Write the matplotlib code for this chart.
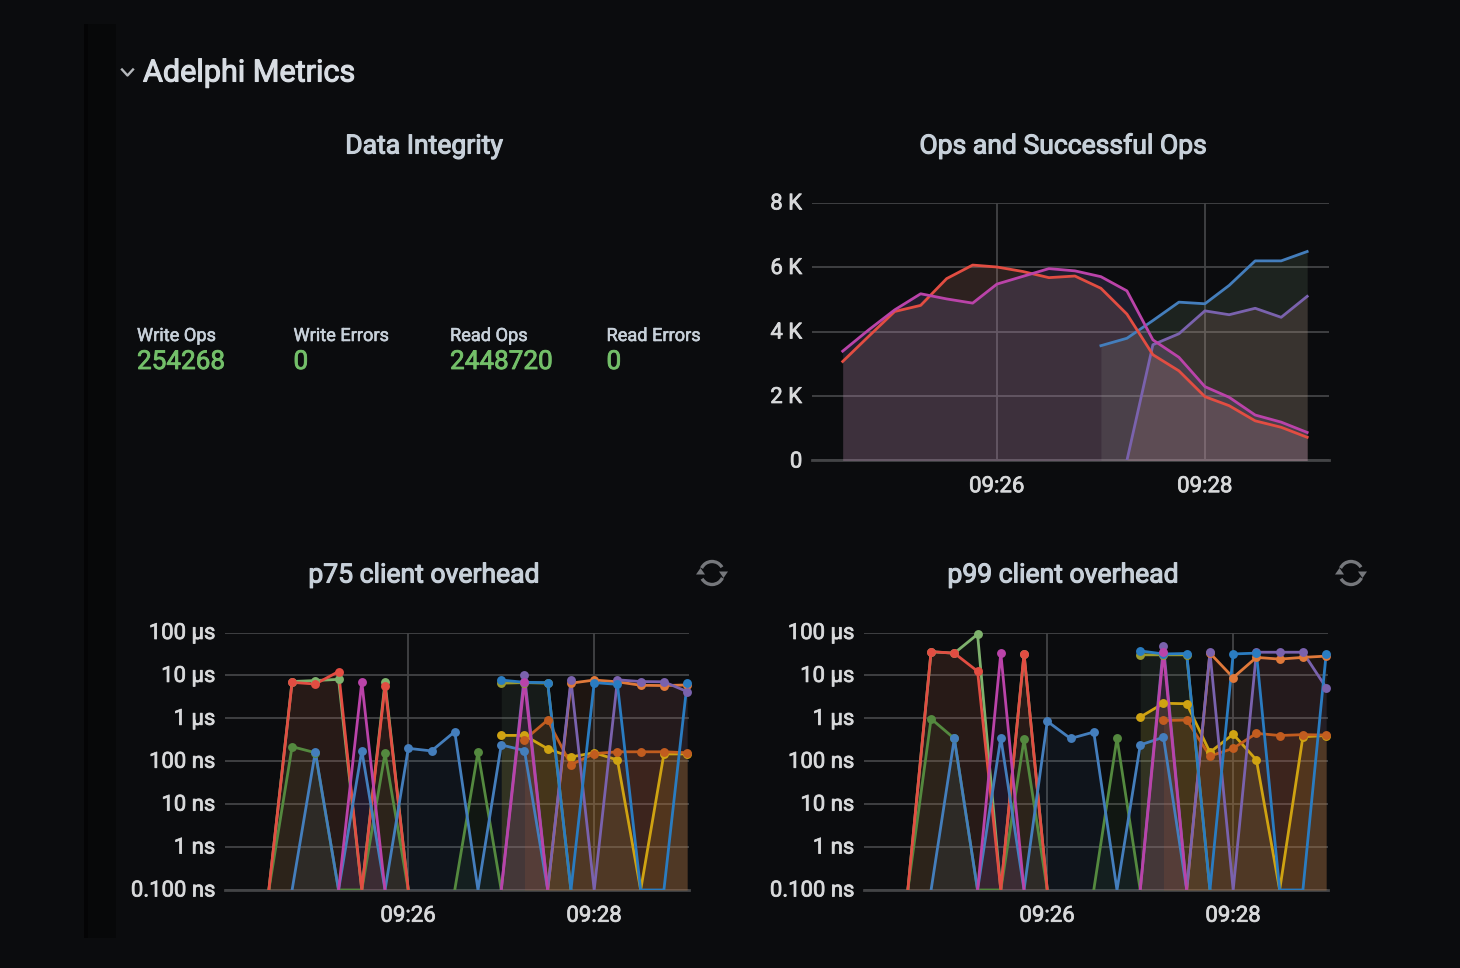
import numpy as np
import matplotlib
matplotlib.use("Agg")
import matplotlib.pyplot as plt
import matplotlib.patheffects as pe
from matplotlib.patches import Arc, Polygon, Rectangle
from matplotlib.ticker import FixedLocator, FixedFormatter, NullLocator
from matplotlib.transforms import ScaledTranslation

N = None
# ---------- data ----------
seconds = [-90, -75, -60, -45, -30, -15, 0, 15, 30, 45, 60, 75, 90, 105, 120, 135, 150, 165, 180]
ops_seconds = [-89, -74, -59, -44, -29, -14, 0, 15, 30, 45, 60, 75, 90, 105, 120, 134, 149, 164, 179]
time_ticks = [0, 120]
time_labels = ["09:26", "09:28"]

ops_red = [3070, 3850, 4620, 4810, 5640, 6060, 6000, 5860, 5670, 5720, 5340, 4540, 3280, 2780, 1980, 1700, 1230, 1030, 720]
ops_magenta = [3390, 4050, 4670, 5170, 5010, 4880, 5470, 5710, 5950, 5880, 5700, 5260, 3740, 3200, 2290, 1960, 1410, 1190, 870]
ops_blue = [N, N, N, N, N, N, N, N, N, N, 3560, 3790, 4340, 4910, 4860, 5430, 6190, 6190, 6480]
ops_purple = [N, N, N, N, N, N, N, N, N, N, N, 0, 3590, 3930, 4640, 4520, 4720, 4440, 5090]
ops_ticks = [0, 2000, 4000, 6000, 8000]
ops_labels = ["0", "2 K", "4 K", "6 K", "8 K"]

log_ticks = [0.1, 1, 10, 100, 1000, 10000, 100000]
log_labels = ["0.100 ns", "1 ns", "10 ns", "100 ns", "1 µs", "10 µs", "100 µs"]

# p75 client overhead, ns (0 = drawn on the floor, None = no sample)
p75_lgreen = [0, 7200, 7600, 8100, 0, 6900, 0, N, N, N, N, N, N, N, N, N, N, N, N]
p75_dgreen = [0, 219, 158, 0, 0, 155, 0, N, 0, 166, 0, N, N, N, N, N, N, N, N]
p75_red = [0, 6900, 6300, 12300, 0, 5700, 0, N, N, N, N, N, N, N, N, N, N, N, N]
p75_magenta = [N, N, N, 0, 7100, 0, N, N, N, N, 0, 7200, 0, N, N, N, N, N, N]
p75_steel = [N, 0, 166, 0, 178, 0, 200, 174, 490, 0, 240, 178, 0, N, N, N, N, N, N]
p75_olive = [N, N, N, N, N, N, N, N, N, N, 6600, 6800, 6600, 0, N, N, N, N, N]
p75_gold = [N, N, N, N, N, N, N, N, N, N, 400, 400, 195, 126, 158, 107, 0, 148, 148]
p75_dorange = [N, N, N, N, N, N, N, N, N, N, N, 316, 912, 83, 151, 166, 166, 166, 158]
p75_lorange = [N, N, N, N, N, N, N, N, N, N, N, N, 0, 6600, 7800, 7100, 5900, 5800, 6000]
p75_purple = [N, N, N, N, N, N, N, N, N, N, 0, 10500, 0, 7800, 0, 7900, 7200, 7100, 4200]
p75_blue = [N, N, N, N, N, N, N, N, N, N, 7800, 6900, 6800, 0, 6800, 6200, 0, 0, 6600]

# p99 client overhead, ns
p99_lgreen = [0, 35500, 33000, 91000, 0, 31600, 0, N, N, N, N, N, N, N, N, N, N, N, N]
p99_dgreen = [0, 977, 339, 0, 0, 324, 0, N, 0, 347, 0, N, N, N, N, N, N, N, N]
p99_red = [0, 36000, 32900, 12500, 0, 31600, 0, N, N, N, N, N, N, N, N, N, N, N, N]
p99_magenta = [N, N, N, 0, 33100, 0, N, N, N, N, 0, 34700, 0, N, N, N, N, N, N]
p99_steel = [N, 0, 339, 0, 355, 0, 851, 339, 479, 0, 240, 363, 0, N, N, N, N, N, N]
p99_olive = [N, N, N, N, N, N, N, N, N, N, 30200, 30200, 30200, 0, N, N, N, N, N]
p99_gold = [N, N, N, N, N, N, N, N, N, N, 1070, 2240, 2190, 162, 427, 107, 0, 372, 398]
p99_dorange = [N, N, N, N, N, N, N, N, N, N, N, 891, 912, 132, 200, 447, 398, 417, 407]
p99_lorange = [N, N, N, N, N, N, N, N, N, N, N, N, 0, 33100, 8900, 26300, 24000, 26300, 28200]
p99_purple = [N, N, N, N, N, N, N, N, N, N, 0, 49000, 0, 34700, 0, 34700, 34700, 34700, 5200]
p99_blue = [N, N, N, N, N, N, N, N, N, N, 37200, 31600, 32400, 0, 31600, 33100, 0, 0, 31600]

stat_labels = ["Write Ops", "Write Errors", "Read Ops", "Read Errors"]
stat_values = ["254268", "0", "2448720", "0"]

# ---------- styles ----------
BG = "#0b0c0e"
GRID = "#434446"
TXT = "#d8d9da"
C = dict(red="#e24d42", magenta="#ba43a9", blue="#2a7cc1", steel="#447ebc", purple="#7a62ad",
         lgreen="#7eb26d", dgreen="#54893f", gold="#cfa312", olive="#9a9a30",
         dorange="#c15c1f", lorange="#e0793a")
FILL_ALPHA = dict(red=0.11, magenta=0.10, blue=0.05, steel=0.08, purple=0.07, lgreen=0.05, dgreen=0.09,
                  gold=0.15, olive=0.07, dorange=0.16, lorange=0.09)
FONT = ["Roboto", "DejaVu Sans"]
plt.rcParams["font.family"] = FONT
W, H = 1460, 968
THICK = [pe.withStroke(linewidth=0.55, foreground="#d0d2d5")]

fig = plt.figure(figsize=(W / 100, H / 100), dpi=100, facecolor=BG)

# pixel-space overlay for page furniture and text
pg = fig.add_axes([0, 0, 1, 1], zorder=0)
pg.set_xlim(0, W)
pg.set_ylim(H, 0)
pg.axis("off")
pg.add_patch(Rectangle((84, 24), 32, 914, fc="#070809", ec="none"))
pg.add_patch(Rectangle((84, 24), 4, 914, fc="#040405", ec="none"))


def panel(left, right, top, bottom, xlim):
    ax = fig.add_axes([left / W, 1 - bottom / H, (right - left) / W, (bottom - top) / H], zorder=2)
    ax.patch.set_alpha(0)
    ax.set_xlim(*xlim)
    for s in ax.spines.values():
        s.set_visible(False)
    ax.grid(True, color=GRID, lw=1.3, zorder=0)
    ax.set_axisbelow(True)
    ax.tick_params(length=0, colors=TXT, pad=0)
    ax.tick_params(axis="x", labelsize=16)
    ax.tick_params(axis="y", labelsize=15.9)
    ax.xaxis.set_major_locator(FixedLocator(time_ticks))
    ax.xaxis.set_major_formatter(FixedFormatter(time_labels))
    return ax


def style_ticks(ax, dy_px):
    shift = ScaledTranslation(0, dy_px / 100, fig.dpi_scale_trans)
    for lbl in ax.get_yticklabels():
        lbl.set_va("center_baseline")
        lbl.set_transform(lbl.get_transform() + shift)
        lbl.set_path_effects(THICK)
    for lbl in ax.get_xticklabels():
        lbl.set_path_effects(THICK)


def series(ax, xs, values, color, floor=None, marker=False, alpha=0.14, lw=2.0, fill=None):
    x = np.array(xs, float)
    raw = np.array([np.nan if v is None else v for v in values], float)
    y = raw if floor is None else np.where(raw <= 0, floor, raw)
    base = 0 if floor is None else floor
    ax.fill_between(x, base, y, color=fill or color, alpha=alpha, lw=0, zorder=1)
    ax.plot(x, y, color=color, lw=lw, zorder=3, solid_joinstyle="round", clip_on=True)
    if marker:
        m = raw > 0
        ax.plot(x[m], raw[m], ls="none", marker="o", ms=6.4, mfc=color, mec=color, mew=0, zorder=4,
                clip_on=False)


# ---------- Ops ----------
ax = panel(812, 1329, 202.5, 460.5, (-106.7, 191.6))
ax.set_ylim(0, 8000)
ax.yaxis.set_major_locator(FixedLocator(ops_ticks))
ax.yaxis.set_major_formatter(FixedFormatter(ops_labels))
ax.tick_params(axis="y", pad=7)
ax.tick_params(axis="x", pad=11.3)
ax.axhline(0, color=GRID, lw=2, clip_on=False, zorder=1)
series(ax, ops_seconds, ops_blue, C["steel"], alpha=0.15, fill="#8aac86")
series(ax, ops_seconds, ops_purple, C["purple"], alpha=0.15, fill="#d98f8b")
series(ax, ops_seconds, ops_red, C["red"], alpha=0.15, fill="#f09a84")
series(ax, ops_seconds, ops_magenta, C["magenta"], alpha=0.15, fill="#9c8ae6")
style_ticks(ax, 1)


# ---------- latency panels ----------
def latency(left, right, vals):
    ax = panel(left, right, 632.5, 890, (-118.3, 181.2))
    ax.set_yscale("log")
    ax.set_ylim(0.1, 100000)
    ax.yaxis.set_major_locator(FixedLocator(log_ticks))
    ax.yaxis.set_major_formatter(FixedFormatter(log_labels))
    ax.yaxis.set_minor_locator(NullLocator())
    ax.tick_params(axis="y", pad=7)
    ax.tick_params(axis="x", pad=11.3)
    ax.axhline(0.1, color=GRID, lw=2, clip_on=False, zorder=1)
    for v, c in vals:
        series(ax, seconds, v, C[c], floor=0.1, marker=True, alpha=FILL_ALPHA[c])
    style_ticks(ax, 1.5)
    return ax


latency(225, 689, [(p75_lgreen, "lgreen"), (p75_dgreen, "dgreen"), (p75_red, "red"),
                   (p75_steel, "steel"), (p75_olive, "olive"), (p75_gold, "gold"), (p75_dorange, "dorange"),
                   (p75_lorange, "lorange"), (p75_purple, "purple"), (p75_blue, "blue"), (p75_magenta, "magenta")])
latency(864, 1328, [(p99_lgreen, "lgreen"), (p99_dgreen, "dgreen"), (p99_red, "red"),
                    (p99_steel, "steel"), (p99_olive, "olive"), (p99_gold, "gold"), (p99_dorange, "dorange"),
                    (p99_lorange, "lorange"), (p99_purple, "purple"), (p99_blue, "blue"), (p99_magenta, "magenta")])

# ---------- text ----------
pg.text(143, 73, "Adelphi Metrics", fontsize=22.0, color="#d8dde3", ha="left", va="center",
        path_effects=[pe.withStroke(linewidth=0.8, foreground="#d8dde3")])
pg.plot([122, 127.5, 133], [69.5, 75.5, 69.5], color="#b5b8bc", lw=1.7)
for cx, cy, t in [(424, 146, "Data Integrity"), (1063, 146, "Ops and Successful Ops"),
                  (424, 575, "p75 client overhead"), (1063, 575, "p99 client overhead")]:
    pg.text(cx, cy, t, fontsize=19.1, color="#c7d0d9", ha="center", va="center",
            path_effects=[pe.withStroke(linewidth=0.8, foreground="#c7d0d9")])
for x0, lab, val in zip([137, 293.5, 450, 606.5], stat_labels, stat_values):
    pg.text(x0, 336, lab, fontsize=13.1, color="#c7d0d9", ha="left", va="center",
            path_effects=[pe.withStroke(linewidth=0.4, foreground="#c7d0d9")])
    pg.text(x0, 362, val, fontsize=18.8, color="#73bf69", ha="left", va="center",
            path_effects=[pe.withStroke(linewidth=0.6, foreground="#73bf69")])


# refresh icons
def refresh(cx, cy):
    col = "#76787c"
    pg.add_patch(Arc((cx, cy), 23, 23, theta1=205, theta2=330, color=col, lw=2.4))
    pg.add_patch(Arc((cx, cy), 23, 23, theta1=25, theta2=150, color=col, lw=2.4))
    pg.add_patch(Polygon([(cx + 7, cy - 1.5), (cx + 16, cy - 1.5), (cx + 11.5, cy + 5)], fc=col, ec="none"))
    pg.add_patch(Polygon([(cx - 7, cy + 1.5), (cx - 16, cy + 1.5), (cx - 11.5, cy - 5)], fc=col, ec="none"))


refresh(712, 573)
refresh(1351, 573)

fig.savefig("out.png", dpi=100, facecolor=BG)
